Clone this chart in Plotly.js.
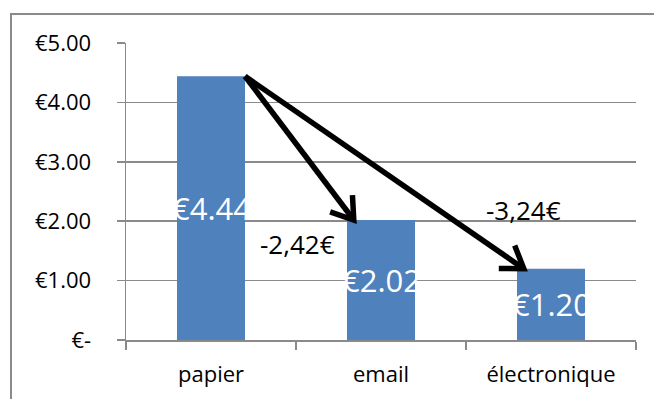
<!DOCTYPE html>
<html>
<head>
<meta charset="utf-8">
<script src="https://cdn.plot.ly/plotly-3.0.1.min.js"></script>
<style>
  html, body { margin: 0; padding: 0; background: #ffffff; }
  #frame { position: absolute; left: 10px; top: 13px; width: 660px; height: 400px;
           border-left: 2px solid #8a8a8a; border-top: 2px solid #8a8a8a; }
  #chart { position: absolute; left: 0; top: 0; width: 654px; height: 399px; }
</style>
</head>
<body>
<div id="frame"></div>
<div id="chart"></div>
<script>
// ---- data ----
const categories = ["papier", "email", "électronique"];
const values = [4.44, 2.02, 1.20];
const valueLabels = ["€4.44", "€2.02", "€1.20"];
const yTickVals = [0, 1, 2, 3, 4, 5];
const yTickText = ["€-", "€1.00", "€2.00", "€3.00", "€4.00", "€5.00"];
const deltaLabels = ["-2,42€", "-3,24€"];
const deltaTargets = [1, 2];           // arrows go from category 0 to these
const deltaLabelPos = [[0.506, 1.62], [1.84, 2.19]]; // label anchors (data units)

// ---- layout constants ----
const W = 654, H = 399;
const M = { l: 126, r: 18, t: 43, b: 59 };
const barWidth = 0.4;
const yMax = 5;
const plotW = W - M.l - M.r, plotH = H - M.t - M.b;
const catPx = plotW / categories.length;
const toPx = (x, y) => [M.l + (x + 0.5) * catPx, M.t + plotH - y / yMax * plotH];
const toData = (px, py) => [(px - M.l) / catPx - 0.5, (M.t + plotH - py) / plotH * yMax];

// ---- arrows ----
const shapes = [];
const arrowStyle = { color: "#000000", width: 5.5 };
deltaTargets.forEach(function (ti) {
  const start = toPx(0 + barWidth / 2, values[0]);
  const end = toPx(ti - barWidth / 2 + 0.04, values[ti]);
  const dx = end[0] - start[0], dy = end[1] - start[1];
  const len = Math.hypot(dx, dy);
  const ux = dx / len, uy = dy / len;
  const headLen = 25, ang = 34 * Math.PI / 180;
  const arm = function (s) {
    const c = Math.cos(s * ang), sn = Math.sin(s * ang);
    const rx = -ux * c + uy * sn, ry = -uy * c - ux * sn;
    return [end[0] + rx * headLen, end[1] + ry * headLen];
  };
  const a1 = toData.apply(null, arm(1));
  const a2 = toData.apply(null, arm(-1));
  const s = toData.apply(null, start);
  const e = toData.apply(null, end);
  shapes.push({ type: "path", xref: "x", yref: "y", layer: "above",
    path: "M " + s[0] + "," + s[1] + " L " + e[0] + "," + e[1], line: arrowStyle });
  shapes.push({ type: "path", xref: "x", yref: "y", layer: "above",
    path: "M " + a1[0] + "," + a1[1] + " L " + e[0] + "," + e[1] + " L " + a2[0] + "," + a2[1],
    line: arrowStyle });
});

// ---- annotations ----
const annotations = [];
values.forEach(function (v, i) {
  annotations.push({ x: i, y: v / 2, xref: "x", yref: "y", text: valueLabels[i],
    showarrow: false, font: { family: "Open Sans", size: 31, color: "#ffffff" } });
});
deltaLabels.forEach(function (t, k) {
  annotations.push({ x: deltaLabelPos[k][0], y: deltaLabelPos[k][1], xref: "x", yref: "y",
    text: t, showarrow: false, font: { family: "Open Sans", size: 26, color: "#000000" } });
});

const trace = {
  type: "bar", x: categories, y: values, width: barWidth,
  marker: { color: "#4f81bd", line: { width: 0 } },
  hoverinfo: "skip"
};

const layout = {
  width: W, height: H,
  margin: M,
  paper_bgcolor: "rgba(0,0,0,0)", plot_bgcolor: "rgba(0,0,0,0)",
  showlegend: false,
  font: { family: "Open Sans", size: 22, color: "#000000" },
  xaxis: {
    type: "category", range: [-0.5, 2.5],
    showline: true, linecolor: "#8a8a8a", linewidth: 1.5,
    ticks: "outside", tickson: "boundaries", ticklen: 8, tickcolor: "#8a8a8a", tickwidth: 1.5,
    showgrid: false, ticklabelstandoff: 14,
    tickfont: { family: "Open Sans", size: 22, color: "#000000" }
  },
  yaxis: {
    range: [0, yMax], tickvals: yTickVals, ticktext: yTickText,
    showline: true, linecolor: "#8a8a8a", linewidth: 1.5,
    ticks: "outside", ticklen: 8, tickcolor: "#8a8a8a", tickwidth: 1.5,
    showgrid: true, gridcolor: "#8a8a8a", gridwidth: 1.5, zeroline: false,
    ticklabelstandoff: 21,
    tickfont: { family: "Open Sans", size: 22, color: "#000000" }
  },
  shapes: shapes,
  annotations: annotations
};

Plotly.newPlot("chart", [trace], layout, { displayModeBar: false, staticPlot: true });
</script>
</body>
</html>
